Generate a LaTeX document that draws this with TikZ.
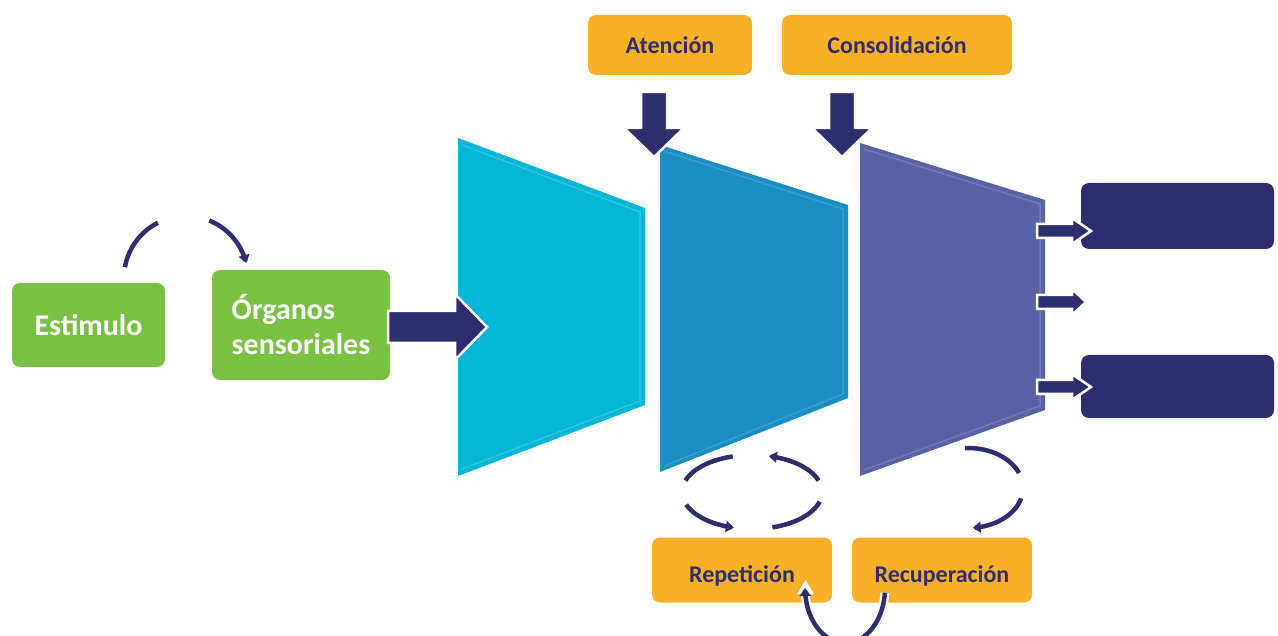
\documentclass[tikz,border=0pt]{standalone}
\usepackage{fontspec}
\setmainfont{Carlito}
\usetikzlibrary{arrows.meta,calc}
\definecolor{grn}{HTML}{7AC143}
\definecolor{org}{HTML}{FBB02A}
\definecolor{navy}{HTML}{2E2D6E}
\definecolor{cyanA}{HTML}{05B6D7}
\definecolor{blueB}{HTML}{1A8DC3}
\definecolor{violC}{HTML}{5A62A6}
\tikzset{
  gbox/.style={fill=grn, rounded corners=8pt, text=white, align=left, inner sep=0pt,
    font=\bfseries\fontsize{30}{35}\selectfont},
  obox/.style={fill=org, rounded corners=8pt, text=navy, inner sep=0pt,
    font=\bfseries\fontsize{24}{28}\selectfont},
  nbox/.style={fill=navy, rounded corners=8pt, inner sep=0pt},
  blk/.style={fill=navy, draw=white, line width=2.5pt, line join=miter},
  cyc/.style={draw=navy, line width=4.5pt},
  cyca/.style={draw=navy, line width=4.5pt, -{Triangle[length=8pt,width=11pt]}},
}
\begin{document}
\begin{tikzpicture}[x=1pt,y=-1pt]
\useasboundingbox (0,0) rectangle (1278,636);
\clip (0,0) rectangle (1278,636);

% stages
\fill[cyanA] (458,138) -- (645,208) -- (645,405) -- (458,476) -- cycle;
\fill[blueB] (660,145) -- (848,205) -- (848,398) -- (660,472) -- cycle;
\fill[violC] (860,143) -- (1045,200) -- (1045,410) -- (860,476) -- cycle;
\draw[white, opacity=0.18, line width=1.5pt] (462,145) -- (640,212) -- (640,401) -- (462,469);
\draw[white, opacity=0.15, line width=1.5pt] (664,151) -- (843,209) -- (843,394) -- (664,466);
\draw[white, opacity=0.15, line width=1.5pt] (864,149) -- (1040,204) -- (1040,406) -- (864,470);

% boxes
\node[gbox, minimum width=153pt, minimum height=84pt] (est) at (88.5,325) {Estimulo};
\node[gbox, minimum width=178pt, minimum height=110pt] (org) at (301,325) {Órganos\\sensoriales};
\node[obox, minimum width=164pt, minimum height=60pt] (ate) at (670,45) {Atención};
\node[obox, minimum width=230pt, minimum height=60pt] (con) at (897,45) {Consolidación};
\node[obox, minimum width=180pt, minimum height=65pt] (rep) at (742,570) {\raisebox{-12pt}[0pt][0pt]{Repetición}};
\node[obox, minimum width=180pt, minimum height=65pt] (rec) at (942,570) {\raisebox{-12pt}[0pt][0pt]{Recuperación}};
\node[nbox, minimum width=193pt, minimum height=66pt] (n1) at (1177.5,216) {};
\node[nbox, minimum width=193pt, minimum height=63pt] (n2) at (1177.5,386.5) {};

% block arrows
\draw[blk] (388,311) -- (455,311) -- (455,294) -- (487,327) -- (455,360) -- (455,343) -- (388,343) -- cycle;
\draw[blk] (641,92) -- (667,92) -- (667,128) -- (684,128) -- (654,157) -- (624,128) -- (641,128) -- cycle;
\draw[blk] (829,92) -- (855,92) -- (855,128) -- (872,128) -- (842,157) -- (812,128) -- (829,128) -- cycle;
\foreach \yy/\tx in {231/1091, 302/1086, 387/1091}{
  \draw[blk] (1037,\yy-7) -- (1072,\yy-7) -- (1072,\yy-13) -- (\tx,\yy) -- (1072,\yy+13) -- (1072,\yy+7) -- (1037,\yy+7) -- cycle;
}

% curved arrow between green boxes
\draw[cyc] plot[domain=170:117, samples=30] ({186+62*cos(\x)},{278-62*sin(\x)});
\draw[cyca] plot[domain=68:14, samples=30] ({186+62*cos(\x)},{278-62*sin(\x)});

% repetition cycle
\draw[cyc] plot[domain=162:106, samples=30] ({752+70*cos(\x)},{492-37*sin(\x)});
\draw[cyca] plot[domain=18:76, samples=30] ({752+70*cos(\x)},{492-37*sin(\x)});
\draw[cyca] plot[domain=200:255, samples=30] ({752+70*cos(\x)},{492-37*sin(\x)});
\draw[cyc] plot[domain=287:345, samples=30] ({752+70*cos(\x)},{492-37*sin(\x)});

% recovery arc
\draw[cyc] plot[domain=93:22, samples=30] ({968+55*cos(\x)},{488-40*sin(\x)});
\draw[cyca] plot[domain=-15:-85, samples=30] ({968+55*cos(\x)},{488-40*sin(\x)});

% bottom arc from Recuperacion to Repeticion
\draw[white, line width=9pt] plot[domain=-5:-75, samples=30] ({845+40*cos(\x)},{588-55*sin(\x)});
\draw[white, line width=9pt] plot[domain=-105:-178, samples=30] ({845+40*cos(\x)},{588-55*sin(\x)});
\fill[white] (805.5,580) -- (797,594) -- (814,594) -- cycle;
\draw[cyc] plot[domain=-5:-75, samples=30] ({845+40*cos(\x)},{588-55*sin(\x)});
\draw[cyca] plot[domain=-105:-180, samples=30] ({845+40*cos(\x)},{588-55*sin(\x)});
\end{tikzpicture}
\end{document}
